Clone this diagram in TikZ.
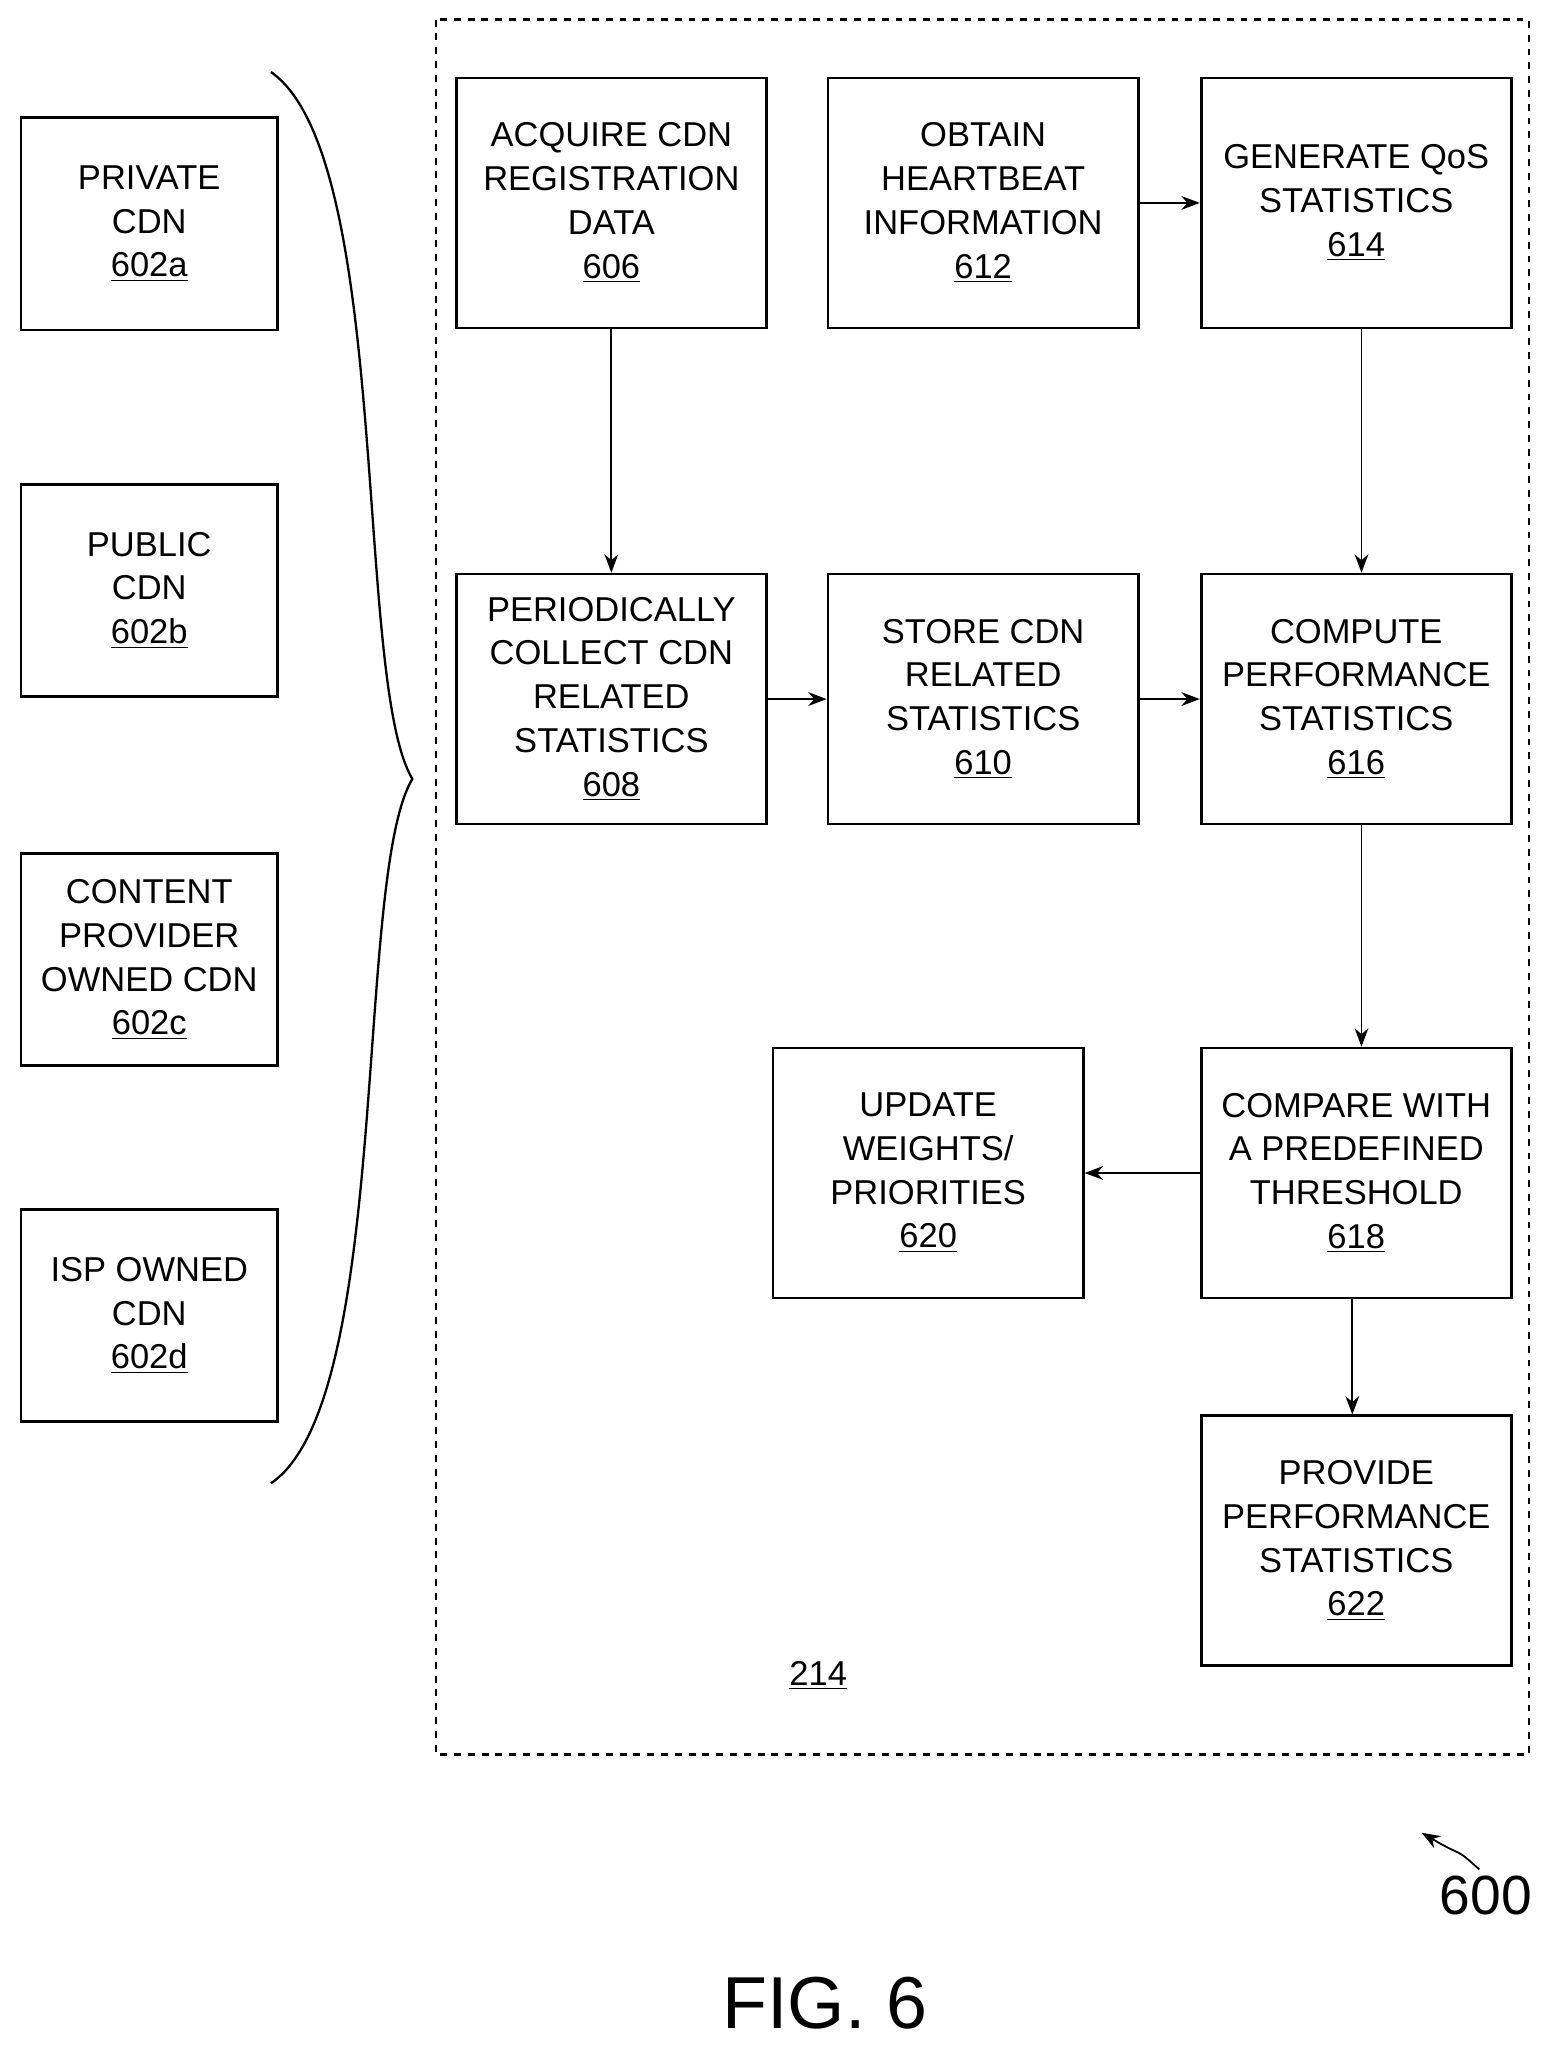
\documentclass[tikz,border=0pt]{standalone}
\usepackage{fontspec}
\setmainfont{Liberation Sans}
\usetikzlibrary{arrows.meta, positioning}
\begin{document}
\begin{tikzpicture}[x=0.02cm, y=-0.02cm,
		box/.style={draw, line width=1.2pt, align=center, minimum width=4.74cm, minimum height=3.82cm, font=\fontsize{15}{19}\selectfont},
		src/.style={draw, line width=1.2pt, align=center, minimum width=3.92cm, minimum height=3.24cm, font=\fontsize{15}{19}\selectfont},
		arrow/.style={-{Stealth[length=8pt, width=6pt]}, line width=0.8pt}
		]
		\useasboundingbox (0,0) rectangle (1185,1569);
		
		% Sources
		\node[src] (priv) at (114,171) {PRIVATE\\CDN\\\underline{602a}};
		\node[src] (pub) at (114,451) {PUBLIC\\CDN\\\underline{602b}};
		\node[src] (cont) at (114,733) {CONTENT\\PROVIDER\\OWNED CDN\\\underline{602c}};
		\node[src] (isp) at (114,1005) {ISP OWNED\\CDN\\\underline{602d}};
		\draw[line width=1pt] (207,55) .. controls (300,120) and (270,520) .. (315,595)
			.. controls (270,670) and (300,1070) .. (207,1133);
		
		% System
		\draw[dashed, line width=1.2pt] (333,15) rectangle (1168,1340);
		\node[box] (acq) at (467,155) {ACQUIRE CDN\\REGISTRATION\\DATA\\\underline{606}};
		\node[box] (hb) at (751,155) {OBTAIN\\HEARTBEAT\\INFORMATION\\\underline{612}};
		\node[box] (qos) at (1036,155) {GENERATE QoS\\STATISTICS\\\underline{614}};
		\node[box] (coll) at (467,534) {PERIODICALLY\\COLLECT CDN\\RELATED\\STATISTICS\\\underline{608}};
		\node[box] (store) at (751,534) {STORE CDN\\RELATED\\STATISTICS\\\underline{610}};
		\node[box] (perf) at (1036,534) {COMPUTE\\PERFORMANCE\\STATISTICS\\\underline{616}};
		\node[box] (upd) at (709,896) {UPDATE\\WEIGHTS/\\PRIORITIES\\\underline{620}};
		\node[box] (cmp) at (1036,896) {COMPARE WITH\\A PREDEFINED\\THRESHOLD\\\underline{618}};
		\node[box] (prov) at (1036,1177) {PROVIDE\\PERFORMANCE\\STATISTICS\\\underline{622}};
		\node[font=\fontsize{15}{19}\selectfont] (sys) at (625,1280) {\underline{214}};
		
		% Arrows
		\draw[arrow] (acq) -- (coll);
		\draw[arrow] (hb) -- (qos);
		\draw[arrow] (qos.south -| 1040,0) -- (perf.north -| 1040,0);
		\draw[arrow] (coll) -- (store);
		\draw[arrow] (store) -- (perf);
		\draw[arrow] (perf.south -| 1040,0) -- (cmp.north -| 1040,0);
		\draw[arrow] (cmp) -- (upd);
		\draw[arrow] (cmp.south -| 1033,0) -- (prov.north -| 1033,0);
		
		% Labels
		\node[font=\fontsize{24}{28}\selectfont] (fig) at (1135,1448) {600};
		\coordinate (tip) at (1086,1400);
		\draw[arrow] (1130,1428) .. controls (1110,1410) and (1120,1420) .. (tip);
		\node[font=\fontsize{32}{36}\selectfont] (cap) at (630,1530) {FIG. 6};
	\end{tikzpicture}
\end{document}
